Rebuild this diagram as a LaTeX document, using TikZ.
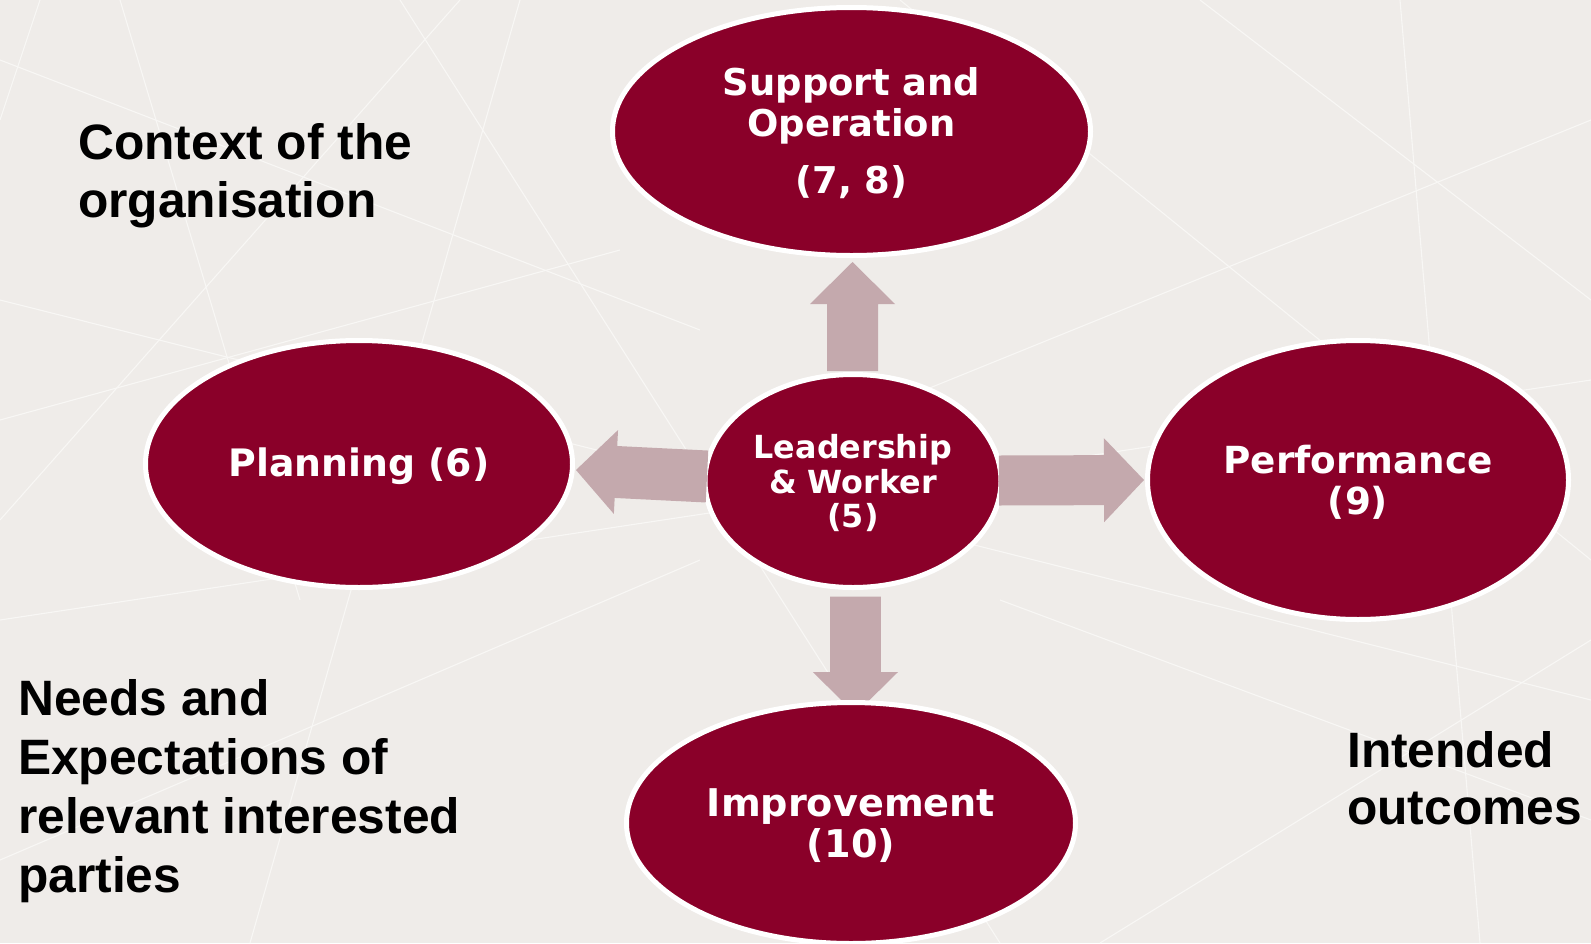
\documentclass[tikz,border=0pt]{standalone}
\usepackage{fontspec}
\setmainfont{Liberation Sans}
\newfontfamily\vfont{DejaVu Sans}
\usetikzlibrary{shapes.geometric,calc}
\definecolor{bgc}{HTML}{EFECE9}
\definecolor{wine}{HTML}{8A0029}
\definecolor{arrowc}{HTML}{C4A9AD}
\definecolor{linec}{HTML}{F8F7F5}
\newcommand\ctxt[1]{\vtop{\lineskiplimit=-100pt\halign{\hfil##\hfil\cr#1\crcr}}}
\newcommand\ltxt[1]{\vtop{\lineskiplimit=-100pt\halign{##\hfil\cr#1\crcr}}}
\newcommand\blockarrow[5]{%
  \path ($(#2)!#5pt!(#1)$) coordinate (bh);
  \fill[arrowfill] ($(#1)!#3pt!90:(#2)$) -- ($(bh)!#3pt!-90:(#1)$) -- ($(bh)!#4pt!-90:(#1)$) -- (#2)
    -- ($(bh)!#4pt!90:(#1)$) -- ($(bh)!#3pt!90:(#1)$) -- ($(#1)!#3pt!-90:(#2)$) -- cycle;}
\tikzset{
  blob/.style={ellipse, fill=wine, draw=white, line width=5pt, inner sep=0pt, text=white,
    font=\vfont\bfseries\fontsize{37.8}{41.5}\selectfont},
  lbl/.style={anchor=base west, inner sep=0pt, text=black},
  arrowfill/.style={fill=arrowc},
  bgline/.style={draw=linec, line width=1.1pt}
}
\begin{document}
\begin{tikzpicture}[x=1pt,y=-1pt]
\useasboundingbox (0,0) rectangle (1591,943);
\fill[bgc] (0,0) rectangle (1591,943);
% background texture
\draw[bgline] (0,60) -- (700,330);
\draw[bgline] (40,0) -- (0,120);
\draw[bgline] (120,0) -- (300,600);
\draw[bgline] (0,420) -- (620,250);
\draw[bgline] (0,620) -- (1591,380);
\draw[bgline] (400,0) -- (1000,943);
\draw[bgline] (1200,0) -- (1591,300);
\draw[bgline] (1591,120) -- (900,400);
\draw[bgline] (1400,0) -- (1480,943);
\draw[bgline] (0,860) -- (700,560);
\draw[bgline] (1100,943) -- (1591,640);
\draw[bgline] (250,943) -- (520,0);
\draw[bgline] (900,0) -- (1591,560);
\draw[bgline] (0,300) -- (1591,700);
\draw[bgline] (460,0) -- (0,520);
\draw[bgline] (1591,820) -- (1000,600);

% centre
\node[blob, minimum width=296pt, minimum height=213pt, text height=0pt, text depth=44.8pt,
  font=\vfont\bfseries\fontsize{31.8}{34.5}\selectfont] (lead) at (853,481)
  {\ctxt{Leadership\cr \& Worker\cr (5)}};

% arrows
\coordinate (aLt) at (707,476.5); \coordinate (aLh) at (576,470);
\coordinate (aRt) at (999,480.5); \coordinate (aRh) at (1144,480);
\coordinate (aUt) at (852.5,371); \coordinate (aUh) at (852.5,262);
\coordinate (aDt) at (855.4,596.6); \coordinate (aDh) at (855.4,714);
\blockarrow{aLt}{aLh}{26}{42}{40}
\blockarrow{aRt}{aRh}{25}{42}{40}
\blockarrow{aUt}{aUh}{25.5}{42.5}{42}
\blockarrow{aDt}{aDh}{25.4}{42.6}{42}

% outer ellipses
\node[blob, minimum width=478pt, minimum height=248pt, text height=0pt, text depth=73pt,
  font=\vfont\bfseries\fontsize{36.9}{41.7}\selectfont] (supp) at (851.5,131.5)
  {\ctxt{Support and\cr Operation\cr\noalign{\vskip 15pt}(7, 8)}};
\node[blob, minimum width=427pt, minimum height=247pt, text height=25.4pt, text depth=0pt] (plan) at (359,464)
  {\ctxt{Planning (6)}};
\node[blob, minimum width=421pt, minimum height=279pt, text height=0pt, text depth=14pt,
  font=\vfont\bfseries\fontsize{37.3}{41.5}\selectfont] (perf) at (1358,480)
  {\ctxt{Performance\cr (9)}};
\node[blob, minimum width=449pt, minimum height=241pt, text height=0pt, text depth=14pt,
  font=\vfont\bfseries\fontsize{38.2}{41.5}\selectfont] (impr) at (851,823)
  {\ctxt{Improvement\cr (10)}};

% side texts
\node[lbl, font=\bfseries\fontsize{49.7}{58}\selectfont] (ctx) at (78,159)
  {\ltxt{Context of the\cr organisation}};
\node[lbl, font=\bfseries\fontsize{49.7}{59.3}\selectfont] (needs) at (18,715)
  {\ltxt{Needs and\cr Expectations of\cr relevant interested\cr parties}};
\node[lbl, font=\bfseries\fontsize{49.7}{57}\selectfont] (outc) at (1347,767)
  {\ltxt{Intended\cr outcomes}};
\end{tikzpicture}
\end{document}
